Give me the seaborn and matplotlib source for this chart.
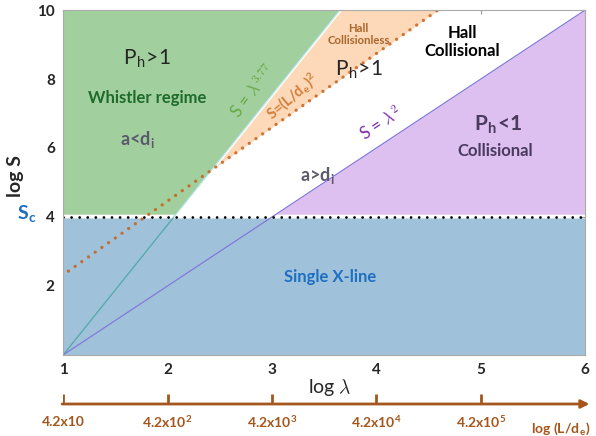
import numpy as np
import matplotlib
matplotlib.use("Agg")
import matplotlib.pyplot as plt
import seaborn as sns
import pandas as pd

# axis ticks
x_ticks = [1, 2, 3, 4, 5, 6]
y_ticks = [2, 4, 6, 8, 10]

# secondary axis: log(L/d_e)
lde_ticks = [1, 2, 3, 4, 5]
lde_labels = ["4.2x10", r"4.2x10$^\mathregular{2}$", r"4.2x10$^\mathregular{3}$",
              r"4.2x10$^\mathregular{4}$", r"4.2x10$^\mathregular{5}$"]

# critical Lundquist number
s_crit = 4.0

# boundary lines (endpoints, in log lambda / log S)
whistler_x = [1.0, 3.65]   # S = lambda^3.77
whistler_y = [0.0, 10.0]
lde_x = [1.05, 4.59]       # S = (L/d_e)^2
lde_y = [2.43, 10.0]
sp_x = [1.0, 6.0]          # S = lambda^2
sp_y = [0.0, 10.0]

BLUE = "#9fc2da"
GREEN = "#a2cf9e"
ORANGE = "#fdd9b9"
PURPLE = "#ddc0f0"
BROWN = "#a5561c"

sns.set_style("white")
plt.rcParams["font.family"] = ["Lato", "DejaVu Sans"]
plt.rcParams["mathtext.fontset"] = "cm"

fig = plt.figure(figsize=(5.96, 4.36), dpi=100)
ax = fig.add_axes([0.106, 0.186, 0.876, 0.791])


def line_on(xs, ys, grid):
    slope = (ys[1] - ys[0]) / (xs[1] - xs[0])
    return ys[0] + slope * (grid - xs[0])


grid = np.linspace(1, 6, 1001)
g = line_on(whistler_x, whistler_y, grid)
o = line_on(lde_x, lde_y, grid)
p = line_on(sp_x, sp_y, grid)
top = 10.0
floor = s_crit + 0.08

# regions
ax.fill_between(grid, 0, s_crit - 0.03, color=BLUE, lw=0)
lo = np.maximum(floor, g)
ax.fill_between(grid, lo, top, where=lo < top, color=GREEN, lw=0)
lo = np.maximum(floor, o)
hi = np.minimum(g, top)
ax.fill_between(grid, lo, hi, where=hi > lo, color=ORANGE, lw=0)
hi = np.minimum(p, top)
ax.fill_between(grid, floor, hi, where=hi > floor, color=PURPLE, lw=0)

# boundary lines
lines = pd.DataFrame({"x": whistler_x, "y": whistler_y})
sns.lineplot(data=lines, x="x", y="y", ax=ax, color="#4fa9a6", lw=0.9)
# lighter double edge where the whistler line borders the green region
gx = np.array([1 + (whistler_x[1] - whistler_x[0]) * s_crit / whistler_y[1], whistler_x[1]])
ax.plot(gx + 0.012, [s_crit, top], color="white", lw=1.4)
ax.plot(gx, [s_crit, top], color="#bfe6e0", lw=1.0)
lines = pd.DataFrame({"x": sp_x, "y": sp_y})
sns.lineplot(data=lines, x="x", y="y", ax=ax, color="#8378dc", lw=0.9)
ax.plot(lde_x, lde_y, color="#c8601a", lw=2.4, alpha=0.85,
        linestyle=(0, (0.01, 2.45)), dash_capstyle="round")
ax.plot([1, 6], [s_crit, s_crit], color="black", lw=2.0,
        linestyle=(0, (0.01, 2.9)), dash_capstyle="round")

ax.set_xlim(1, 6)
ax.set_ylim(0, 10)
ax.set_xticks(x_ticks)
ax.set_yticks(y_ticks)
ax.set_xticklabels([str(t) for t in x_ticks], fontweight="bold", fontsize=11)
ax.set_yticklabels([str(t) for t in y_ticks], fontweight="bold", fontsize=11)
ax.tick_params(direction="in", length=3, color="#999999", top=True, right=True,
               pad=6)
for s in ax.spines.values():
    s.set_color("#aaaaaa")
    s.set_linewidth(0.8)
ax.set_xlabel(r"log $\lambda$", fontsize=14)
ax.set_ylabel("log S", fontsize=14, fontweight="bold")
ax.xaxis.set_label_coords(0.51, -0.065)
ax.yaxis.set_label_coords(-0.075, 0.52)

# annotations
ax.text(1.8, 8.6, r"P$_\mathregular{h}$>1", fontsize=15, ha="center", va="center")
ax.text(1.8, 7.45, "Whistler regime", fontsize=12, fontweight="bold",
        color="#1f6b2b", ha="center", va="center")
ax.text(1.71, 6.23, r"a<d$_\mathregular{i}$", fontsize=13, fontweight="bold",
        color="#5a5a6a", ha="center", va="center")
ax.text(2.8, 7.68, r"S = $\lambda^{3.77}$", fontsize=12, color="#66a845",
        rotation=53, ha="center", va="center")
ax.text(3.2, 7.5, r"S=(L/d$_\mathregular{e}$)$^\mathregular{2}$", fontsize=10.5,
        fontweight="bold", color="#d27f3a", rotation=40, ha="center", va="center")
ax.text(3.83, 9.3, "Hall\nCollisionless", fontsize=8.2, fontweight="bold",
        color="#a8662c", ha="center", va="center", linespacing=1.1)
ax.text(4.82, 9.07, "Hall\nCollisional", fontsize=12, fontweight="bold",
        color="black", ha="center", va="center", linespacing=1.1)
ax.text(3.83, 8.28, r"P$_\mathregular{h}$>1", fontsize=15, ha="center", va="center")
ax.text(4.04, 6.72, r"S = $\lambda^2$", fontsize=12, color="#7a2aa8",
        rotation=33.5, ha="center", va="center")
ax.text(3.44, 5.16, r"a>d$_\mathregular{i}$", fontsize=13, fontweight="bold",
        color="#5a5a6a", ha="center", va="center")
ax.text(5.17, 6.67, r"P$_\mathregular{h}$<1", fontsize=15, fontweight="bold",
        color="#4a3a5e", ha="center", va="center")
ax.text(5.14, 5.9, "Collisional", fontsize=12, fontweight="bold",
        color="#4a3a5e", ha="center", va="center")
ax.text(3.56, 2.26, "Single X-line", fontsize=12, fontweight="bold",
        color="#1f6fc2", ha="center", va="center")
fig.text(0.045, 1 - 214 / 436, r"S$_\mathregular{c}$", fontsize=14, fontweight="bold",
         color="#1f6fc2", ha="center", va="center")

# secondary log(L/d_e) axis
ax2 = fig.add_axes([0.106, 0.0, 0.876, 0.13])
ax2.set_xlim(1, 6)
ax2.set_ylim(0, 0.13)
ax2.axis("off")
y_axis = 1 - 404 / 436
ax2.annotate("", xy=(6.04, y_axis), xytext=(0.99, y_axis),
             arrowprops=dict(arrowstyle="-|>", color=BROWN, lw=2,
                             mutation_scale=12, shrinkA=0, shrinkB=0),
             annotation_clip=False)
ax2.vlines(lde_ticks, y_axis, 1 - 394 / 436, color=BROWN, lw=2)
for t, lab in zip(lde_ticks, lde_labels):
    ax2.text(t, 1 - 422 / 436, lab, fontsize=10, fontweight="bold", color=BROWN,
             ha="center", va="center")
fig.text(0.94, 1 - 429 / 436, r"log (L/d$_\mathregular{e}$)", fontsize=10,
         fontweight="bold", color=BROWN, ha="center", va="center")

fig.savefig("out.png", dpi=100)
